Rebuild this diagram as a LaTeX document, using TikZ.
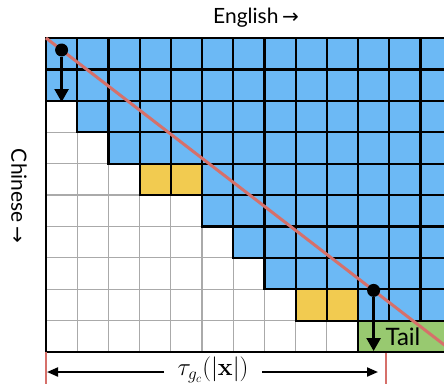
\documentclass[tikz,border=0pt]{standalone}
\usepackage[no-math]{fontspec}
\setmainfont{Lato}
\newfontfamily\arrowfont{DejaVu Sans}
\usetikzlibrary{arrows.meta}
\definecolor{cellblue}{RGB}{108,185,245}
\definecolor{cellyellow}{RGB}{242,203,80}
\definecolor{cellgreen}{RGB}{152,201,112}
\definecolor{diagred}{RGB}{214,112,106}
\definecolor{gridgray}{RGB}{170,170,170}
\tikzset{
  bluecell/.style={fill=cellblue,draw=black,line width=2.2pt},
  yellowcell/.style={fill=cellyellow,draw=black,line width=2.2pt},
  greencell/.style={fill=cellgreen,draw=black,line width=2.2pt},
  gridline/.style={draw=gridgray,line width=1.3pt},
  border/.style={draw=black,line width=2.2pt},
  diagline/.style={draw=diagred,line width=3pt},
  dot/.style={circle,fill=black,inner sep=0pt,minimum size=13pt},
  varrow/.style={draw=black,line width=2.5pt,-{Triangle[length=13pt,width=14pt]}},
  harrow/.style={draw=black,line width=2pt,-{Triangle[length=11pt,width=9pt]}},
  tick/.style={draw=diagred,line width=1.3pt},
  lbl/.style={font=\fontsize{21}{25}\selectfont,inner sep=0pt},
}
\begin{document}
\begin{tikzpicture}[x=1pt,y=-1pt]
\useasboundingbox (0,0) rectangle (444,384);
\fill[white] (0,0) rectangle (444,384);
\begin{scope}
\clip (0,0) rectangle (444,384);
% gray grid
\foreach \c in {0,...,13} {
  \draw[gridline] ({46+\c*31.2},38) -- ({46+\c*31.2},352);
}
\foreach \r in {0,...,10} {
  \draw[gridline] (46,{38+\r*31.4}) -- (470,{38+\r*31.4});
}
% blue cells
\foreach \r/\s in {0/0,1/0,2/1,3/2,4/5,5/5,6/6,7/7,8/10} {
  \foreach \c in {\s,...,13} {
    \draw[bluecell] ({46+\c*31.2},{38+\r*31.4}) rectangle ++(31.2,31.4);
  }
}
% yellow cells
\foreach \c/\r in {3/4,4/4,8/8,9/8} {
  \draw[yellowcell] ({46+\c*31.2},{38+\r*31.4}) rectangle ++(31.2,31.4);
}
% green tail
\draw[greencell] (358,320.6) rectangle (470,352);
% outer border
\draw[border] (46,38) -- (46,352) -- (470,352);
\draw[border] (46,38) -- (470,38);
% diagonal
\coordinate (ds) at (46,38);
\coordinate (de) at (470,364.7);
\draw[diagline] (ds) -- (de);
\end{scope}
% dots and arrows
\node[dot] (d1) at (61.6,50.0) {};
\node[dot] (d2) at (373.6,290.4) {};
\coordinate (a1) at (61.6,102);
\coordinate (a2) at (373.6,351);
\draw[varrow] (d1) -- (a1);
\draw[varrow] (d2) -- (a2);
% labels
\node[lbl,font=\fontsize{24}{28}\selectfont] (tail) at (403,337) {Tail};
\node[lbl] (eng) at (256,18) {English\,{\arrowfont\fontsize{20}{24}\selectfont →}};
\node[lbl,rotate=-90] (chi) at (19,196) {Chinese\,{\arrowfont\fontsize{20}{24}\selectfont →}};
% bottom measure
\coordinate (t1a) at (46,352);
\coordinate (t1b) at (46,384);
\coordinate (t2a) at (386,353);
\coordinate (t2b) at (386,384);
\draw[tick] (t1a) -- (t1b);
\draw[tick] (t2a) -- (t2b);
\node[inner sep=0pt,font=\fontsize{25}{30}\selectfont] (tau) at (213,370) {$\tau_{g_c}(|\mathbf{x}|)$};
\coordinate (l1) at (47,372);
\coordinate (r1) at (378,372);
\coordinate (l0) at (164,372);
\coordinate (r0) at (262,372);
\draw[harrow] (l0) -- (l1);
\draw[harrow] (r0) -- (r1);
\end{tikzpicture}
\end{document}
